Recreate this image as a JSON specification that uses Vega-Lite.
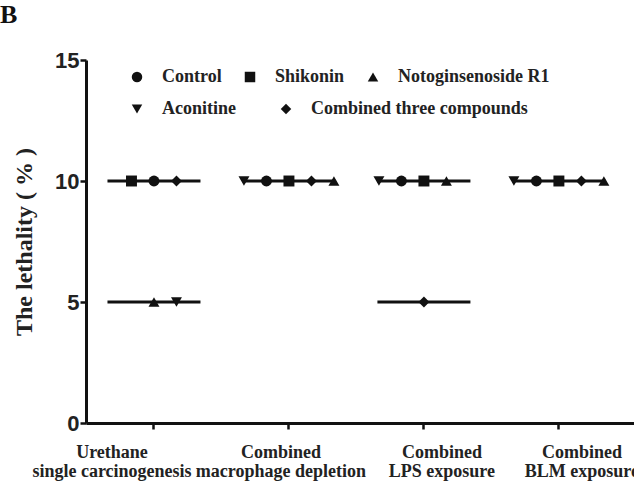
{
  "$schema": "https://vega.github.io/schema/vega-lite/v6.json",
  "width": 548,
  "height": 363,
  "autosize": {"type": "none"},
  "padding": {"left": 86, "top": 60, "right": 0, "bottom": 59},
  "background": "white",
  "config": {"view": {"stroke": null}, "axis": {"grid": false}},
  "title": {
    "text": "B",
    "anchor": "start",
    "frame": "group",
    "dx": -86,
    "dy": 27,
    "offset": 27,
    "baseline": "alphabetic",
    "font": "Liberation Serif",
    "fontSize": 26,
    "fontWeight": "bold",
    "color": "#111"
  },
  "data": {
    "values": [
      {"group": "Urethane single carcinogenesis", "compound": "Shikonin", "lethality": 10, "slot": 2},
      {"group": "Urethane single carcinogenesis", "compound": "Control", "lethality": 10, "slot": 3},
      {"group": "Urethane single carcinogenesis", "compound": "Combined three compounds", "lethality": 10, "slot": 4},
      {"group": "Urethane single carcinogenesis", "compound": "Notoginsenoside R1", "lethality": 5, "slot": 3},
      {"group": "Urethane single carcinogenesis", "compound": "Aconitine", "lethality": 5, "slot": 4},
      {"group": "Combined macrophage depletion", "compound": "Aconitine", "lethality": 10, "slot": 1},
      {"group": "Combined macrophage depletion", "compound": "Control", "lethality": 10, "slot": 2},
      {"group": "Combined macrophage depletion", "compound": "Shikonin", "lethality": 10, "slot": 3},
      {"group": "Combined macrophage depletion", "compound": "Combined three compounds", "lethality": 10, "slot": 4},
      {"group": "Combined macrophage depletion", "compound": "Notoginsenoside R1", "lethality": 10, "slot": 5},
      {"group": "Combined LPS exposure", "compound": "Aconitine", "lethality": 10, "slot": 1},
      {"group": "Combined LPS exposure", "compound": "Control", "lethality": 10, "slot": 2},
      {"group": "Combined LPS exposure", "compound": "Shikonin", "lethality": 10, "slot": 3},
      {"group": "Combined LPS exposure", "compound": "Notoginsenoside R1", "lethality": 10, "slot": 4},
      {"group": "Combined LPS exposure", "compound": "Combined three compounds", "lethality": 5, "slot": 3},
      {"group": "Combined BLM exposure", "compound": "Aconitine", "lethality": 10, "slot": 1},
      {"group": "Combined BLM exposure", "compound": "Control", "lethality": 10, "slot": 2},
      {"group": "Combined BLM exposure", "compound": "Shikonin", "lethality": 10, "slot": 3},
      {"group": "Combined BLM exposure", "compound": "Combined three compounds", "lethality": 10, "slot": 4},
      {"group": "Combined BLM exposure", "compound": "Notoginsenoside R1", "lethality": 10, "slot": 5}
    ]
  },
  "encoding": {
    "x": {
      "field": "group",
      "type": "nominal",
      "sort": null,
      "scale": {
        "type": "band",
        "domain": ["Urethane single carcinogenesis", "Combined macrophage depletion", "Combined LPS exposure", "Combined BLM exposure"],
        "paddingInner": 0,
        "paddingOuter": 0.03,
        "align": 0.06
      },
      "axis": {
        "title": null,
        "labelAngle": 0,
        "labelExpr": "[slice(datum.label, 0, indexof(datum.label, ' ')), slice(datum.label, indexof(datum.label, ' ') + 1)]",
        "labelFont": "Liberation Serif",
        "labelFontSize": 18,
        "labelFontWeight": "bold",
        "labelColor": "#222",
        "labelLineHeight": 19,
        "labelBaseline": "top",
        "labelPadding": 14,
        "labelOverlap": false,
        "labelLimit": 300,
        "labelOffset": {
          "condition": [
            {"test": "datum.value == 'Urethane single carcinogenesis'", "value": -42},
            {"test": "datum.value == 'Combined macrophage depletion'", "value": -8},
            {"test": "datum.value == 'Combined LPS exposure'", "value": 18}
          ],
          "value": 23
        },
        "domainWidth": 3,
        "domainColor": "#111",
        "tickColor": "#111",
        "tickWidth": 2.5,
        "tickSize": 6
      }
    },
    "y": {
      "field": "lethality",
      "type": "quantitative",
      "scale": {"domain": [0, 15], "nice": false, "zero": true},
      "axis": {
        "values": [0, 5, 10, 15],
        "title": "The lethality ( % )",
        "titleFont": "Liberation Serif",
        "titleFontSize": 24,
        "titleFontWeight": "bold",
        "titleColor": "#222",
        "titlePadding": 18,
        "labelFont": "Liberation Sans",
        "labelFontSize": 22,
        "labelFontWeight": "bold",
        "labelColor": "#222",
        "labelPadding": 1,
        "domainWidth": 3,
        "domainColor": "#111",
        "tickColor": "#111",
        "tickWidth": 2.5,
        "tickSize": 6
      }
    }
  },
  "layer": [
    {
      "transform": [
        {"aggregate": [{"op": "count", "as": "n"}], "groupby": ["group", "lethality"]}
      ],
      "mark": {"type": "tick", "size": 93, "thickness": 3, "color": "#111", "opacity": 1}
    },
    {
      "transform": [
        {"filter": {"field": "compound", "oneOf": ["Control", "Shikonin", "Notoginsenoside R1"]}}
      ],
      "mark": {"type": "point", "filled": true, "size": 120, "color": "#111", "opacity": 1},
      "encoding": {
        "xOffset": {
          "field": "slot",
          "type": "ordinal",
          "scale": {"domain": [1, 2, 3, 4, 5], "paddingInner": 0, "paddingOuter": 1.15}
        },
        "shape": {
          "field": "compound",
          "type": "nominal",
          "scale": {
            "domain": ["Control", "Shikonin", "Notoginsenoside R1"],
            "range": ["circle", "square", "triangle-up"]
          },
          "legend": {
            "orient": "none",
            "direction": "horizontal",
            "legendX": 42,
            "legendY": 8,
            "title": null,
            "labelFont": "Liberation Serif",
            "labelFontSize": 18,
            "labelFontWeight": "bold",
            "labelColor": "#222",
            "labelOffset": 16,
            "labelLimit": 300,
            "symbolSize": 110,
            "symbolFillColor": "#111",
            "symbolStrokeColor": "#111",
            "columnPadding": 19
          }
        }
      }
    },
    {
      "transform": [
        {"filter": {"field": "compound", "oneOf": ["Aconitine", "Combined three compounds"]}}
      ],
      "mark": {"type": "point", "filled": true, "size": 120, "color": "#111", "opacity": 1},
      "encoding": {
        "xOffset": {
          "field": "slot",
          "type": "ordinal",
          "scale": {"domain": [1, 2, 3, 4, 5], "paddingInner": 0, "paddingOuter": 1.15}
        },
        "shape": {
          "field": "compound",
          "type": "nominal",
          "scale": {
            "domain": ["Aconitine", "Combined three compounds"],
            "range": ["triangle-down", "diamond"]
          },
          "legend": {
            "orient": "none",
            "direction": "horizontal",
            "legendX": 42,
            "legendY": 40,
            "title": null,
            "labelFont": "Liberation Serif",
            "labelFontSize": 18,
            "labelFontWeight": "bold",
            "labelColor": "#222",
            "labelOffset": 16,
            "labelLimit": 300,
            "symbolSize": 110,
            "symbolFillColor": "#111",
            "symbolStrokeColor": "#111",
            "columnPadding": 41
          }
        }
      }
    }
  ],
  "resolve": {"scale": {"shape": "independent"}, "legend": {"shape": "independent"}}
}
